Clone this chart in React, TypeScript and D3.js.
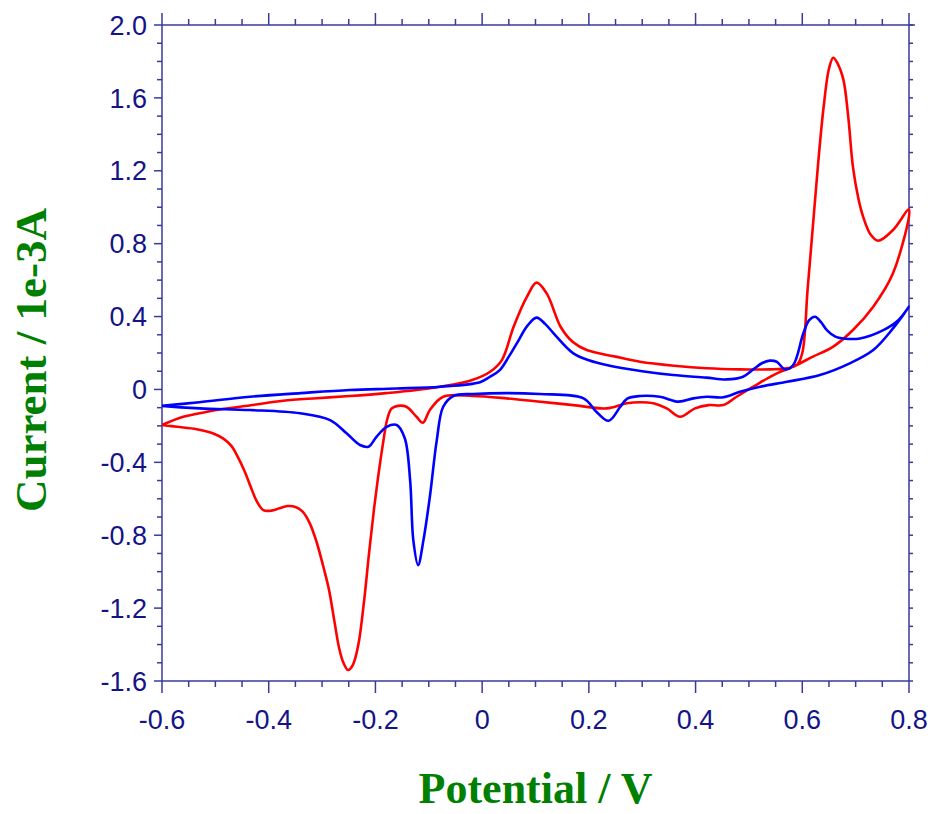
import React from 'react';
import * as d3 from 'd3';

// Cyclic voltammograms (potential in V, current in 1e-3 A)
const redPotential = [
  -0.6, -0.56, -0.52, -0.49, -0.43, -0.373, -0.31, -0.248, -0.18, -0.123, -0.06, -0.02, 0.015, 0.037, 0.059, 0.084,
  0.102, 0.121, 0.147, 0.17, 0.196, 0.25, 0.296, 0.36, 0.421, 0.483, 0.54, 0.571, 0.59, 0.6, 0.61, 0.62, 0.63,
  0.64, 0.65, 0.658, 0.666, 0.677, 0.686, 0.695, 0.705, 0.714, 0.728, 0.742, 0.77, 0.8,
  0.77, 0.733, 0.695, 0.658, 0.62, 0.583, 0.546, 0.508, 0.477, 0.452, 0.424, 0.399, 0.371, 0.346, 0.321, 0.296,
  0.271, 0.233, 0.171, 0.1, 0.046, -0.017, -0.073, -0.098, -0.111, -0.123, -0.142, -0.158, -0.17, -0.178, -0.186,
  -0.194, -0.202, -0.212, -0.222, -0.232, -0.242, -0.251, -0.26, -0.268, -0.277, -0.287, -0.297, -0.31, -0.323,
  -0.336, -0.35, -0.365, -0.38, -0.395, -0.41, -0.423, -0.433, -0.445, -0.458, -0.47, -0.485, -0.505, -0.535,
  -0.572, -0.6,
];
const redCurrent = [
  -0.195, -0.15, -0.125, -0.109, -0.085, -0.062, -0.048, -0.036, -0.02, -0.003, 0.024, 0.05, 0.097, 0.161, 0.344, 0.509,
  0.586, 0.527, 0.344, 0.26, 0.216, 0.18, 0.152, 0.13, 0.116, 0.11, 0.11, 0.116, 0.135, 0.2, 0.55, 0.9, 1.25,
  1.55, 1.76, 1.82, 1.79, 1.7, 1.5, 1.22, 1.05, 0.948, 0.85, 0.816, 0.875, 0.988,
  0.637, 0.454, 0.326, 0.235, 0.18, 0.125, 0.079, 0.015, -0.04, -0.086, -0.086, -0.104, -0.15, -0.104, -0.076, -0.07,
  -0.076, -0.104, -0.086, -0.065, -0.049, -0.036, -0.04, -0.113, -0.183, -0.15, -0.095, -0.09, -0.105, -0.165, -0.3,
  -0.46, -0.64, -0.9, -1.18, -1.4, -1.51, -1.54, -1.5, -1.42, -1.27, -1.1, -0.98, -0.84, -0.735,
  -0.672, -0.645, -0.64, -0.652, -0.665, -0.662, -0.61, -0.54, -0.45, -0.37, -0.31, -0.27, -0.24, -0.218,
  -0.205, -0.195,
];

const bluePotential = [
  -0.6, -0.53, -0.435, -0.34, -0.248, -0.16, -0.079, -0.004, 0.015, 0.033, 0.05, 0.065, 0.085, 0.102, 0.118, 0.134,
  0.171, 0.2, 0.233, 0.3, 0.358, 0.42, 0.458, 0.489, 0.508, 0.525, 0.539, 0.552, 0.568, 0.583, 0.602, 0.613, 0.624,
  0.635, 0.646, 0.662, 0.677, 0.708, 0.752, 0.78, 0.8,
  0.77, 0.733, 0.689, 0.633, 0.571, 0.521, 0.483, 0.452, 0.421, 0.396, 0.368, 0.333, 0.296, 0.272, 0.259, 0.237,
  0.214, 0.19, 0.108, -0.017, -0.054, -0.073, -0.085, -0.098, -0.11, -0.12, -0.129, -0.135, -0.145, -0.16, -0.179,
  -0.198, -0.213, -0.229, -0.254, -0.285, -0.341, -0.435, -0.529, -0.6,
];
const blueCurrent = [
  -0.09, -0.07, -0.04, -0.02, -0.003, 0.005, 0.015, 0.04, 0.07, 0.106, 0.18, 0.253, 0.35, 0.394, 0.36, 0.308,
  0.198, 0.16, 0.134, 0.1, 0.079, 0.065, 0.055, 0.07, 0.11, 0.145, 0.158, 0.152, 0.11, 0.134, 0.308, 0.38, 0.399,
  0.37, 0.326, 0.29, 0.28, 0.28, 0.326, 0.38, 0.454,
  0.335, 0.216, 0.143, 0.079, 0.042, 0.015, -0.013, -0.043, -0.04, -0.049, -0.067, -0.04, -0.036, -0.05, -0.095, -0.172,
  -0.122, -0.049, -0.025, -0.025, -0.036, -0.095, -0.278, -0.589, -0.827, -0.964, -0.827, -0.497, -0.268, -0.195, -0.205,
  -0.26, -0.314, -0.305, -0.241, -0.168, -0.131, -0.113, -0.104, -0.09,
];

const xTicks = [-0.6, -0.4, -0.2, 0, 0.2, 0.4, 0.6, 0.8];
const xTickLabels = ['-0.6', '-0.4', '-0.2', '0', '0.2', '0.4', '0.6', '0.8'];
const yTicks = [2.0, 1.6, 1.2, 0.8, 0.4, 0, -0.4, -0.8, -1.2, -1.6];
const yTickLabels = ['2.0', '1.6', '1.2', '0.8', '0.4', '0', '-0.4', '-0.8', '-1.2', '-1.6'];

const W = 934;
const H = 814;
const margin = { top: 25, right: 25, bottom: 133, left: 162 };
const axisColor = '#3a3a9c';
const labelColor = '#141488';
const titleColor = '#008000';

const App: React.FC = () => {
  const x = d3.scaleLinear().domain([-0.6, 0.8]).range([margin.left, W - margin.right]);
  const y = d3.scaleLinear().domain([-1.6, 2.0]).range([H - margin.bottom, margin.top]);

  const [x0, x1] = x.range();
  const [y0, y1] = [y(2.0), y(-1.6)];

  const line = d3
    .line<[number, number]>()
    .x(d => x(d[0]))
    .y(d => y(d[1]))
    .curve(d3.curveCatmullRom.alpha(0.5));

  const redPts = redPotential.map((e, i) => [e, redCurrent[i]] as [number, number]);
  const bluePts = bluePotential.map((e, i) => [e, blueCurrent[i]] as [number, number]);

  // minor ticks
  const xMinor = d3.range(-0.6, 0.8001, 0.05).filter(v => !xTicks.some(t => Math.abs(t - v) < 1e-6));
  const yMinor = d3.range(-1.6, 2.0001, 0.1).filter(v => !yTicks.some(t => Math.abs(t - v) < 1e-6));
  const yAll = d3.range(-1.6, 2.0001, 0.1);

  return (
    <div style={{ position: 'absolute', left: 0, top: 0 }}>
      <svg width={W} height={H} style={{ display: 'block', background: '#fff' }}>
        {/* frame */}
        <g stroke={axisColor} strokeWidth={1.5} fill="none">
          <line x1={x0} x2={x1 + 6} y1={y0} y2={y0} />
          <line x1={x0} x2={x1} y1={y1} y2={y1} />
          <line x1={x0} x2={x0} y1={y0} y2={y1} />
          <line x1={x1} x2={x1} y1={y0} y2={y1} />
        </g>

        <g stroke={axisColor} strokeWidth={1.5}>
          {/* top ticks */}
          {xTicks.map(t => (
            <line key={'tM' + t} x1={x(t)} x2={x(t)} y1={y0} y2={y0 - 12} />
          ))}
          {xMinor.map(t => (
            <line key={'tm' + t} x1={x(t)} x2={x(t)} y1={y0} y2={y0 - 6} />
          ))}
          {/* bottom ticks */}
          {xTicks.map(t => (
            <line key={'bM' + t} x1={x(t)} x2={x(t)} y1={y1} y2={y1 + 12} />
          ))}
          {xMinor.map(t => (
            <line key={'bm' + t} x1={x(t)} x2={x(t)} y1={y1} y2={y1 + 6} />
          ))}
          {/* left ticks */}
          {yTicks.map(t => (
            <line key={'lM' + t} x1={x0} x2={x0 - 8} y1={y(t)} y2={y(t)} />
          ))}
          {yMinor.map(t => (
            <line key={'lm' + t} x1={x0} x2={x0 - 5} y1={y(t)} y2={y(t)} />
          ))}
          {/* right ticks */}
          {yAll.map(t => (
            <line key={'r' + t} x1={x1} x2={x1 + 4} y1={y(t)} y2={y(t)} />
          ))}
        </g>

        {/* tick labels */}
        <g fill={labelColor} fontFamily="'Liberation Sans', Arial, sans-serif" fontSize={27}>
          {xTicks.map((t, i) => (
            <text key={'xl' + t} x={x(t)} y={y1 + 48} textAnchor="middle">
              {xTickLabels[i]}
            </text>
          ))}
          {yTicks.map((t, i) => (
            <text key={'yl' + t} x={x0 - 15} y={y(t)} dy="0.36em" textAnchor="end">
              {yTickLabels[i]}
            </text>
          ))}
        </g>

        {/* curves */}
        <path d={line(redPts) ?? ''} fill="none" stroke="#ff0000" strokeWidth={2.6} strokeLinejoin="round" />
        <path d={line(bluePts) ?? ''} fill="none" stroke="#0000ff" strokeWidth={2.6} strokeLinejoin="round" />

        {/* axis titles */}
        <text
          x={(x0 + x1) / 2}
          y={803}
          textAnchor="middle"
          fill={titleColor}
          fontFamily="'Liberation Serif', 'Times New Roman', serif"
          fontWeight="bold"
          fontSize={44}
        >
          Potential / V
        </text>
        <text
          transform={`translate(46,360) rotate(-90)`}
          textAnchor="middle"
          fill={titleColor}
          fontFamily="'Liberation Serif', 'Times New Roman', serif"
          fontWeight="bold"
          fontSize={45}
        >
          Current / 1e-3A
        </text>
      </svg>
    </div>
  );
};

export default App;
